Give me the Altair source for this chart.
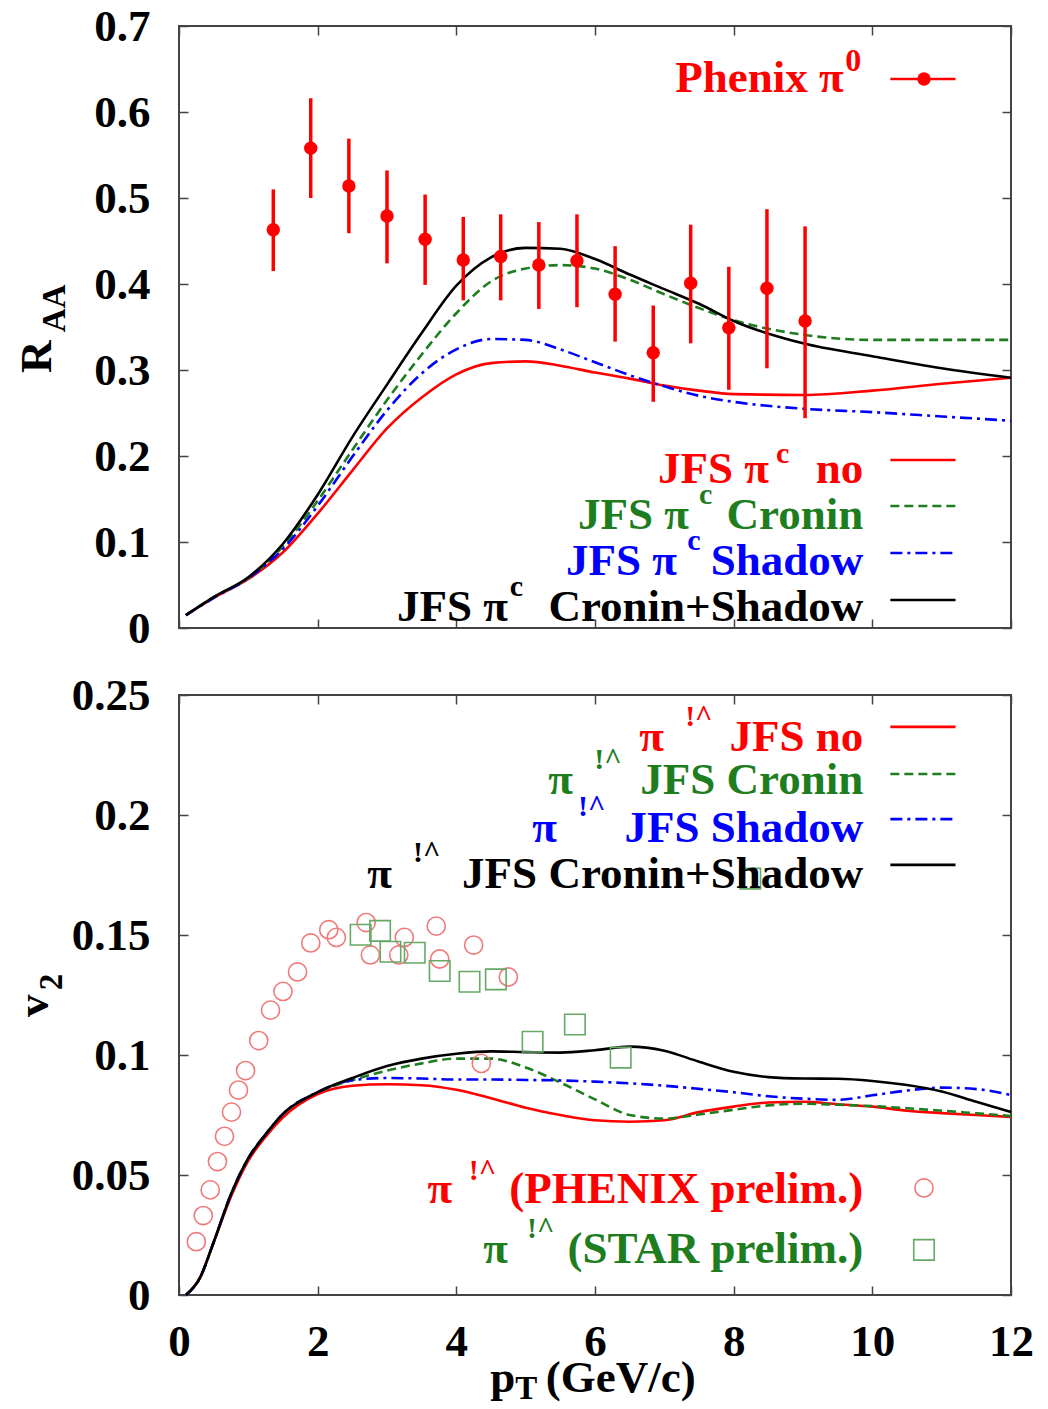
import altair as alt
import pandas as pd

FONT = "Liberation Serif"
RED = "#ff0000"
GREEN = "#1e7d1e"
BLUE = "#0000ff"
BLACK = "#000000"
CIRC = "#f07a7a"
SQR = "#66a866"
FRAME = "#444444"

# ---------------- top panel: R_AA ----------------
pt_curve = [0.1, 0.5, 1.0, 1.5, 2.0, 2.5, 3.0, 3.5, 4.0, 4.5, 5.0, 5.5, 6.0,
            6.5, 7.0, 7.5, 8.0, 9.0, 10.0, 11.0, 12.0]
raa_no = [0.015, 0.035, 0.057, 0.088, 0.133, 0.183, 0.232, 0.268, 0.295, 0.308,
          0.310, 0.305, 0.297, 0.290, 0.282, 0.276, 0.272, 0.271, 0.276, 0.284, 0.291]
raa_cronin = [0.015, 0.036, 0.058, 0.095, 0.148, 0.207, 0.265, 0.318, 0.366, 0.403,
              0.418, 0.422, 0.418, 0.405, 0.388, 0.372, 0.358, 0.341, 0.335, 0.335, 0.335]
raa_shadow = [0.015, 0.035, 0.058, 0.092, 0.142, 0.199, 0.253, 0.296, 0.324, 0.336,
              0.335, 0.324, 0.309, 0.294, 0.281, 0.270, 0.263, 0.255, 0.251, 0.246, 0.241]
raa_both = [0.015, 0.036, 0.059, 0.098, 0.155, 0.222, 0.283, 0.343, 0.398, 0.431,
            0.442, 0.441, 0.429, 0.411, 0.394, 0.377, 0.357, 0.331, 0.316, 0.302, 0.291]

phx_pt = [1.36, 1.90, 2.45, 3.00, 3.55, 4.10, 4.64, 5.19, 5.74, 6.29, 6.84, 7.38, 7.93, 8.48, 9.03]
phx_raa = [0.463, 0.558, 0.514, 0.479, 0.452, 0.428, 0.432, 0.422, 0.427, 0.388,
           0.320, 0.401, 0.349, 0.395, 0.357]
phx_lo = [0.415, 0.500, 0.459, 0.424, 0.399, 0.381, 0.381, 0.371, 0.373, 0.333,
          0.263, 0.331, 0.277, 0.302, 0.244]
phx_hi = [0.510, 0.616, 0.569, 0.532, 0.504, 0.478, 0.481, 0.472, 0.481, 0.444,
          0.375, 0.469, 0.420, 0.487, 0.467]

# ---------------- bottom panel: v2 ----------------
pt_v2 = [0.1, 0.3, 0.5, 0.75, 1.0, 1.25, 1.5, 2.0, 2.5, 3.0, 3.5, 4.0, 4.5, 5.0,
         5.5, 6.0, 6.5, 7.0, 7.5, 8.0, 8.5, 9.0, 9.5, 10.0, 10.5, 11.0, 11.5, 12.0]
v2_no = [0.0, 0.007, 0.022, 0.041, 0.056, 0.066, 0.074, 0.0837, 0.0872, 0.0878,
         0.0874, 0.0855, 0.082, 0.078, 0.075, 0.0728, 0.0722, 0.0728, 0.0762, 0.0785,
         0.0802, 0.0805, 0.0795, 0.0785, 0.0768, 0.0758, 0.075, 0.0742]
v2_cronin = [0.0, 0.007, 0.022, 0.042, 0.057, 0.067, 0.0755, 0.0845, 0.0895, 0.0935,
             0.0965, 0.0985, 0.0985, 0.0948, 0.0885, 0.0815, 0.075, 0.0735, 0.0752,
             0.0772, 0.079, 0.0797, 0.0793, 0.0787, 0.0778, 0.0768, 0.0757, 0.0746]
v2_shadow = [0.0, 0.007, 0.022, 0.042, 0.057, 0.067, 0.0755, 0.0845, 0.0895, 0.0904,
             0.0902, 0.0898, 0.0898, 0.0896, 0.0894, 0.0889, 0.0882, 0.0872, 0.0859,
             0.0845, 0.0828, 0.0818, 0.0813, 0.0832, 0.0852, 0.0864, 0.0858, 0.0833]
v2_both = [0.0, 0.007, 0.022, 0.042, 0.057, 0.067, 0.0755, 0.0845, 0.0904, 0.0954,
           0.0985, 0.1005, 0.1015, 0.1012, 0.101, 0.102, 0.1035, 0.1018, 0.0972,
           0.093, 0.0908, 0.0902, 0.0901, 0.0892, 0.0875, 0.0848, 0.0805, 0.0762]

phenix_v2_pt = [0.25, 0.35, 0.45, 0.555, 0.656, 0.757, 0.858, 0.96, 1.15, 1.32, 1.50,
                1.71, 1.90, 2.16, 2.27, 2.70, 2.76, 3.17, 3.25, 3.71, 3.76, 4.25, 4.36, 4.75]
phenix_v2 = [0.0222, 0.0331, 0.0438, 0.0556, 0.0661, 0.0762, 0.0854, 0.0935, 0.106,
             0.1187, 0.1265, 0.1346, 0.1467, 0.1522, 0.149, 0.1552, 0.1417, 0.1417,
             0.149, 0.1537, 0.14, 0.1458, 0.0965, 0.1325]
star_v2_pt = [2.62, 2.90, 3.05, 3.40, 3.76, 4.19, 4.57, 5.10, 5.71, 6.37, 8.24]
star_v2 = [0.1501, 0.1517, 0.143, 0.1426, 0.135, 0.1305, 0.1315, 0.1055, 0.1127, 0.0989, 0.1735]

# ---------------- ticks ----------------
x_ticks = [0, 2, 4, 6, 8, 10, 12]
raa_ticks = [0, 0.1, 0.2, 0.3, 0.4, 0.5, 0.6, 0.7]
v2_ticks = [0, 0.05, 0.1, 0.15, 0.2, 0.25]

# ---------------- legend layout (data units) ----------------
LEG_RIGHT = 9.87
LEG_LINE_X = [10.26, 11.20]
LEG_MARK_X = 10.745

top_leg_words = ["no", "Cronin", "Shadow", "Cronin+Shadow"]
top_leg_colors = [RED, GREEN, BLUE, BLACK]
top_leg_dash = [None, [9, 5], [12, 5, 3, 5], None]
top_leg_base = [0.1686, 0.1151, 0.0616, 0.0081]
top_leg_sup_base = [0.1919, 0.1442, 0.0907, 0.0372]
top_leg_line_y = [0.1953, 0.1419, 0.0872, 0.0326]
top_leg_pi_right = [8.51, 7.356, 7.18, 4.745]
top_leg_sup_left = [8.61, 7.50, 7.33, 4.77]

bot_leg_words = ["JFS no", "JFS Cronin", "JFS Shadow", "JFS Cronin+Shadow"]
bot_leg_base = [0.2267, 0.2088, 0.1888, 0.1696]
bot_leg_sup_base = [0.2371, 0.2192, 0.1996, 0.1804]
bot_leg_line_y = [0.2367, 0.2171, 0.1983, 0.1792]
bot_leg_pi_right = [6.995, 5.68, 5.45, 3.07]
bot_leg_sup_left = [7.30, 5.99, 5.755, 3.375]

W = 832
H_TOP = 602
H_BOT = 600
TK = 9

xscale = alt.Scale(domain=[0, 12], nice=False, zero=False)
ys_top = alt.Scale(domain=[0, 0.7], nice=False, zero=False)
ys_bot = alt.Scale(domain=[0, 0.25], nice=False, zero=False)


def xaxis(orient, labels):
    kw = dict(orient=orient, values=x_ticks, domain=False, grid=False, ticks=True,
              tickSize=TK, offset=-TK, title=None, labelFlush=False, labelOverlap=False)
    if labels:
        kw.update(labels=True, labelPadding=24, format="d")
    else:
        kw.update(labels=False)
    return alt.Axis(**kw)


def yaxis(orient, labels, vals, fmt):
    kw = dict(orient=orient, values=vals, domain=False, grid=False, ticks=True,
              tickSize=TK, offset=-TK, title=None, labelFlush=False, labelOverlap=False)
    if labels:
        kw.update(labels=True, labelPadding=29, format=fmt)
    else:
        kw.update(labels=False)
    return alt.Axis(**kw)


def curve(df, col, color, dash, yscale, xax=None, yax=None, width=2.6):
    mk = dict(color=color, strokeWidth=width, interpolate="monotone")
    if dash:
        mk["strokeDash"] = dash
    return alt.Chart(df).mark_line(**mk).encode(
        x=alt.X("pt:Q", scale=xscale, axis=xax),
        y=alt.Y(f"{col}:Q", scale=yscale, axis=yax),
    )


def texts(df, yscale, size, align, angle=None):
    kw = dict(font=FONT, fontSize=size, fontWeight="bold", align=align, baseline="alphabetic")
    if angle is not None:
        kw["angle"] = angle
    return alt.Chart(df).mark_text(**kw).encode(
        x=alt.X("x:Q", scale=xscale, axis=None),
        y=alt.Y("y:Q", scale=yscale, axis=None),
        text="t:N",
        color=alt.Color("c:N", scale=None),
    )


def leg_rule(y, color, dash, yscale):
    df = pd.DataFrame({"x": [LEG_LINE_X[0]], "x2": [LEG_LINE_X[1]], "y": [y]})
    mk = dict(color=color, strokeWidth=2.6)
    if dash:
        mk["strokeDash"] = dash
    return alt.Chart(df).mark_rule(**mk).encode(
        x=alt.X("x:Q", scale=xscale, axis=None), x2="x2:Q",
        y=alt.Y("y:Q", scale=yscale, axis=None),
    )


# ================= TOP PANEL =================
top_df = pd.DataFrame({"pt": pt_curve, "no": raa_no, "cr": raa_cronin,
                       "sh": raa_shadow, "bo": raa_both})
phx_df = pd.DataFrame({"pt": phx_pt, "raa": phx_raa, "lo": phx_lo, "hi": phx_hi})

top_layers = [
    curve(top_df, "no", RED, None, ys_top, xaxis("bottom", False),
          yaxis("left", True, raa_ticks, ".1~f")),
    alt.Chart(top_df).mark_point(opacity=0).encode(
        x=alt.X("pt:Q", scale=xscale, axis=xaxis("top", False)),
        y=alt.Y("no:Q", scale=ys_top, axis=yaxis("right", False, raa_ticks, ".1~f"))),
    curve(top_df, "cr", GREEN, [9, 5], ys_top),
    curve(top_df, "sh", BLUE, [12, 5, 3, 5], ys_top),
    curve(top_df, "bo", BLACK, None, ys_top),
    alt.Chart(phx_df).mark_rule(color=RED, strokeWidth=3.5).encode(
        x=alt.X("pt:Q", scale=xscale, axis=None),
        y=alt.Y("lo:Q", scale=ys_top, axis=None), y2="hi:Q"),
    alt.Chart(phx_df).mark_circle(color=RED, size=180, opacity=1).encode(
        x=alt.X("pt:Q", scale=xscale, axis=None),
        y=alt.Y("raa:Q", scale=ys_top, axis=None)),
]

# legend texts (top)
top_right_df = pd.DataFrame({"x": [LEG_RIGHT] * 4, "y": top_leg_base,
                             "t": top_leg_words, "c": top_leg_colors})
top_pi_df = pd.DataFrame({"x": top_leg_pi_right + [9.585], "y": top_leg_base + [0.6233],
                          "t": ["JFS π"] * 4 + ["Phenix π"], "c": top_leg_colors + [RED]})
top_sup_df = pd.DataFrame({"x": top_leg_sup_left, "y": top_leg_sup_base,
                           "t": ["c"] * 4, "c": top_leg_colors})
top_sup0_df = pd.DataFrame({"x": [9.61], "y": [0.6477], "t": ["0"], "c": [RED]})
top_layers += [
    texts(top_right_df, ys_top, 45, "right"),
    texts(top_pi_df, ys_top, 45, "right"),
    texts(top_sup_df, ys_top, 30, "left"),
    texts(top_sup0_df, ys_top, 32, "left"),
]
for yv, col, dash in zip(top_leg_line_y, top_leg_colors, top_leg_dash):
    top_layers.append(leg_rule(yv, col, dash, ys_top))
top_layers.append(leg_rule(0.6384, RED, None, ys_top))
top_layers.append(alt.Chart(pd.DataFrame({"x": [LEG_MARK_X], "y": [0.6384]}))
                  .mark_circle(color=RED, size=180, opacity=1).encode(
                      x=alt.X("x:Q", scale=xscale, axis=None),
                      y=alt.Y("y:Q", scale=ys_top, axis=None)))
# y title R_AA
top_layers.append(texts(pd.DataFrame({"x": [-1.846], "y": [0.2965], "t": ["R"], "c": [BLACK]}),
                        ys_top, 45, "left", angle=270))
top_layers.append(texts(pd.DataFrame({"x": [-1.644], "y": [0.344], "t": ["AA"], "c": [BLACK]}),
                        ys_top, 33, "left", angle=270))

top = alt.layer(*top_layers).resolve_axis(x="independent", y="independent").properties(
    width=W, height=H_TOP)

# ================= BOTTOM PANEL =================
bot_df = pd.DataFrame({"pt": pt_v2, "no": v2_no, "cr": v2_cronin,
                       "sh": v2_shadow, "bo": v2_both})
phv_df = pd.DataFrame({"pt": phenix_v2_pt, "v2": phenix_v2})
stv_df = pd.DataFrame({"pt": star_v2_pt, "v2": star_v2})

bot_layers = [
    curve(bot_df, "no", RED, None, ys_bot, xaxis("bottom", True),
          yaxis("left", True, v2_ticks, ".2~f")),
    alt.Chart(bot_df).mark_point(opacity=0).encode(
        x=alt.X("pt:Q", scale=xscale, axis=xaxis("top", False)),
        y=alt.Y("no:Q", scale=ys_bot, axis=yaxis("right", False, v2_ticks, ".2~f"))),
    curve(bot_df, "cr", GREEN, [9, 5], ys_bot),
    curve(bot_df, "sh", BLUE, [12, 5, 3, 5], ys_bot),
    curve(bot_df, "bo", BLACK, None, ys_bot),
    alt.Chart(phv_df).mark_point(shape="circle", size=330, filled=False, color=CIRC,
                                 strokeWidth=1.6, opacity=1).encode(
        x=alt.X("pt:Q", scale=xscale, axis=None),
        y=alt.Y("v2:Q", scale=ys_bot, axis=None)),
    alt.Chart(stv_df).mark_point(shape="square", size=420, filled=False, color=SQR,
                                 strokeWidth=1.6, opacity=1).encode(
        x=alt.X("pt:Q", scale=xscale, axis=None),
        y=alt.Y("v2:Q", scale=ys_bot, axis=None)),
]

bot_colors = top_leg_colors + [RED, GREEN]
bot_right_df = pd.DataFrame({"x": [LEG_RIGHT] * 6,
                             "y": bot_leg_base + [0.0383, 0.0133],
                             "t": bot_leg_words + ["(PHENIX prelim.)", "(STAR prelim.)"],
                             "c": bot_colors})
bot_pi_df = pd.DataFrame({"x": bot_leg_pi_right + [3.94, 4.745],
                          "y": bot_leg_base + [0.0383, 0.0133],
                          "t": ["π"] * 6, "c": bot_colors})
bot_sup_df = pd.DataFrame({"x": bot_leg_sup_left + [4.18, 5.02],
                           "y": bot_leg_sup_base + [0.0479, 0.0238],
                           "t": ["!^"] * 6, "c": bot_colors})
bot_layers += [
    texts(bot_right_df, ys_bot, 45, "right"),
    texts(bot_pi_df, ys_bot, 45, "right"),
    texts(bot_sup_df, ys_bot, 30, "left"),
]
for yv, col, dash in zip(bot_leg_line_y, top_leg_colors, top_leg_dash):
    bot_layers.append(leg_rule(yv, col, dash, ys_bot))
bot_layers.append(alt.Chart(pd.DataFrame({"x": [LEG_MARK_X], "y": [0.0446]}))
                  .mark_point(shape="circle", size=330, filled=False, color=CIRC,
                              strokeWidth=1.6, opacity=1).encode(
                      x=alt.X("x:Q", scale=xscale, axis=None),
                      y=alt.Y("y:Q", scale=ys_bot, axis=None)))
bot_layers.append(alt.Chart(pd.DataFrame({"x": [LEG_MARK_X], "y": [0.0188]}))
                  .mark_point(shape="square", size=420, filled=False, color=SQR,
                              strokeWidth=1.6, opacity=1).encode(
                      x=alt.X("x:Q", scale=xscale, axis=None),
                      y=alt.Y("y:Q", scale=ys_bot, axis=None)))
# y title v_2
bot_layers.append(texts(pd.DataFrame({"x": [-1.889], "y": [0.1158], "t": ["v"], "c": [BLACK]}),
                        ys_bot, 45, "left", angle=270))
bot_layers.append(texts(pd.DataFrame({"x": [-1.688], "y": [0.127], "t": ["2"], "c": [BLACK]}),
                        ys_bot, 33, "left", angle=270))
# x title p_T (GeV/c)
bot_layers.append(texts(pd.DataFrame({"x": [4.49, 5.29], "y": [-0.0405, -0.0405],
                                      "t": ["p", "(GeV/c)"], "c": [BLACK, BLACK]}),
                        ys_bot, 45, "left"))
bot_layers.append(texts(pd.DataFrame({"x": [4.85], "y": [-0.0435], "t": ["T"], "c": [BLACK]}),
                        ys_bot, 33, "left"))

bot = alt.layer(*bot_layers).resolve_axis(x="independent", y="independent").properties(
    width=W, height=H_BOT)

chart = alt.vconcat(top, bot, spacing=67, bounds="flush").properties(
    padding={"left": 3, "top": -5, "right": 0, "bottom": 0},
    background="white",
).configure_view(stroke=FRAME, strokeWidth=2).configure_axis(
    labelFont=FONT, labelFontSize=45, labelFontWeight="bold", labelColor="#000000",
    tickColor=FRAME, tickWidth=1.5,
)

chart.save("out.html", embed_options={"renderer": "svg", "actions": False})
